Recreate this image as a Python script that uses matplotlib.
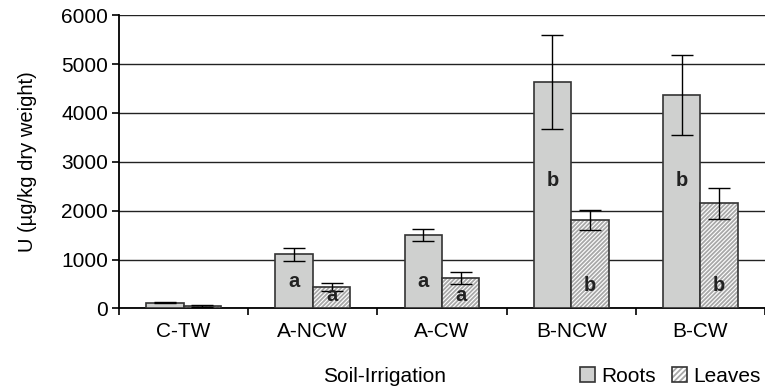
import numpy as np
import matplotlib.pyplot as plt
from matplotlib.patches import Patch
from matplotlib.legend_handler import HandlerTuple

plt.rcParams['font.family'] = ['Liberation Sans', 'DejaVu Sans']
plt.rcParams['hatch.linewidth'] = 1.3

# Dane
categories = ['C-TW', 'A-NCW', 'A-CW', 'B-NCW', 'B-CW']
roots = [120, 1105, 1500, 4625, 4365]
roots_err = [10, 125, 120, 960, 820]
leaves = [50, 435, 630, 1810, 2150]
leaves_err = [15, 80, 125, 205, 310]
roots_letters = ['', 'a', 'a', 'b', 'b']
leaves_letters = ['', 'a', 'a', 'b', 'b']

fs = 15
grey = '#cfd0cf'
hatch_grey = '#a8a8a8'
edge = '#333333'

fig = plt.figure(figsize=(7.65, 3.9), dpi=100)
ax = fig.add_axes([0.1556, 0.209, 0.8444, 0.752])

x = np.arange(len(categories))
w = 0.29
ekw = dict(ecolor='black', elinewidth=1.0, capsize=8, capthick=1.0)

ax.bar(x - w / 2, roots, w, color=grey, edgecolor=edge, linewidth=1.2,
       yerr=roots_err, error_kw=ekw, zorder=3)
# liście: najpierw szrafura w jasnym szarym, potem ciemna ramka
ax.bar(x + w / 2, leaves, w, color='white', edgecolor=hatch_grey, linewidth=0,
       hatch='////////', zorder=3)
ax.bar(x + w / 2, leaves, w, color='none', edgecolor=edge, linewidth=1.2,
       yerr=leaves_err, error_kw=ekw, zorder=3)

# litery istotności
for i in range(len(categories)):
    if roots_letters[i]:
        yr = 2620 if roots_letters[i] == 'b' else 550
        ax.text(x[i] - w / 2, yr, roots_letters[i], ha='center', va='center',
                fontsize=14.5, fontweight='bold', color='#222222', zorder=4)
    if leaves_letters[i]:
        yl = 480 if leaves_letters[i] == 'b' else 270
        ax.text(x[i] + w / 2, yl, leaves_letters[i], ha='center', va='center',
                fontsize=14.5, fontweight='bold', color='#222222', zorder=4)

ax.set_xlim(-0.5, len(categories) - 0.5)
ax.set_ylim(0, 6000)
ax.set_yticks(np.arange(0, 6001, 1000))
ax.yaxis.grid(True, color='#222222', linewidth=1.0, zorder=0)
ax.set_axisbelow(True)

ax.set_xticks(np.arange(-0.5, len(categories) - 0.4, 1.0))
ax.set_xticklabels([])
ax.set_xticks(x, minor=True)
ax.set_xticklabels(categories, minor=True)
ax.tick_params(axis='x', which='minor', length=0, pad=10, labelsize=fs)
ax.tick_params(axis='x', which='major', length=5, direction='out', width=1.2)
ax.tick_params(axis='y', length=5, direction='out', width=1.2, labelsize=fs, pad=3)

for s in ['top', 'right']:
    ax.spines[s].set_visible(False)
ax.spines['left'].set_linewidth(1.3)
ax.spines['bottom'].set_linewidth(1.3)

ax.set_ylabel('U (µg/kg dry weight)', fontsize=14.5)
ax.yaxis.set_label_coords(-0.127, 0.5)
fig.text(385 / 765, 1 - 376 / 390, 'Soil-Irrigation', ha='center', va='center', fontsize=fs)

h_roots = Patch(facecolor=grey, edgecolor=edge, linewidth=1.2)
h_hatch = Patch(facecolor='white', edgecolor=hatch_grey, linewidth=0, hatch='//////')
h_frame = Patch(facecolor='none', edgecolor=edge, linewidth=1.2)
fig.legend([h_roots, (h_hatch, h_frame)], ['Roots', 'Leaves'],
           handler_map={tuple: HandlerTuple(ndivide=1, pad=0)},
           loc='center right', bbox_to_anchor=(0.994, 1 - 376 / 390),
           ncol=2, frameon=False, fontsize=fs, handlelength=0.7, handleheight=0.7,
           handletextpad=0.3, columnspacing=0.8, borderaxespad=0, borderpad=0)

fig.savefig('out.png', dpi=100)
